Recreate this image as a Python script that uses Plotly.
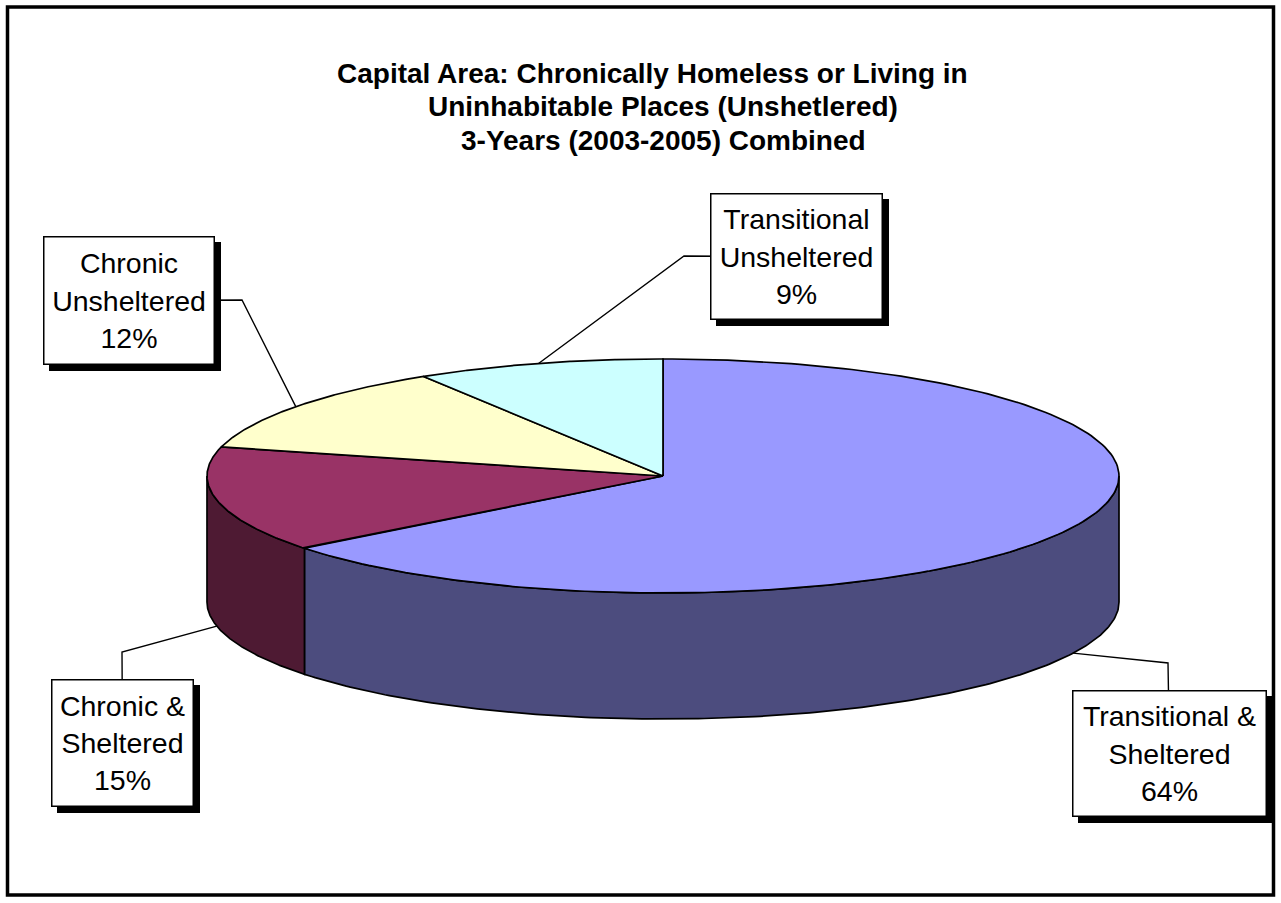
import numpy as np
import plotly.graph_objects as go

# ---------------- data ----------------
labels = ["Transitional &<br>Sheltered", "Chronic &<br>Sheltered",
          "Chronic<br>Unsheltered", "Transitional<br>Unsheltered"]
values = [64.4, 14.6, 12.2, 8.8]
top_colors = ["#9999FF", "#993366", "#FFFFCC", "#CCFFFF"]
side_colors = ["#4C4C7E", "#4E1A33", "#808066", "#668080"]
title_lines = ["Capital Area: Chronically Homeless or Living in",
               "Uninhabitable Places (Unshetlered)",
               "3-Years (2003-2005) Combined"]

# ---------------- layout constants (pixel space) ----------------
W, H = 1281, 903
cx, cy, rx, ry, depth = 663, 476, 456, 117, 126
label_centers = [(1169.5, 753.5), (122.5, 743), (129, 300.5), (796.5, 256.5)]
label_sizes = [(195, 127), (143, 128), (172, 129), (173, 127)]
label_elbows = [(1168, 663), (122, 652), (242, 300), (684, 256)]
title_x = [652, 663, 663]
FONT = "Liberation Sans, Arial, sans-serif"
BW = 1.5
SHADOW = 6

total = float(sum(values))
fracs = np.array(values) / total
ends = 90 - 360 * np.cumsum(fracs)
starts = ends + 360 * fracs


def arc(a0, a1, n=200, dy=0.0):
    t = np.radians(np.linspace(a0, a1, n))
    return cx + rx * np.cos(t), cy - ry * np.sin(t) + dy


fig = go.Figure()

# side walls (front half only)
for i in range(len(values)):
    lo, hi = ends[i], starts[i]
    for k in range(-2, 2):
        f0, f1 = -180 + 360 * k, 360 * k
        a, b = max(lo, f0), min(hi, f1)
        if b > a:
            xt, yt = arc(a, b)
            xb, yb = arc(b, a, dy=depth)
            fig.add_trace(go.Scatter(
                x=np.concatenate([xt, xb, xt[:1]]),
                y=np.concatenate([yt, yb, yt[:1]]),
                mode="lines", fill="toself", fillcolor=side_colors[i],
                line=dict(color="black", width=1.7), hoverinfo="skip",
                showlegend=False))

# top faces
for i in range(len(values)):
    xa, ya = arc(starts[i], ends[i])
    fig.add_trace(go.Scatter(
        x=np.concatenate([[cx], xa, [cx]]),
        y=np.concatenate([[cy], ya, [cy]]),
        mode="lines", fill="toself", fillcolor=top_colors[i],
        line=dict(color="black", width=1.7), hoverinfo="skip",
        showlegend=False))

# leader lines
for i in range(len(values)):
    mid = (starts[i] + ends[i]) / 2
    t = np.radians(mid)
    ax = cx + rx * np.cos(t)
    ay = cy - ry * np.sin(t) + (depth if np.sin(t) < 0 else 0)
    ex, ey = label_elbows[i]
    lx, ly = label_centers[i]
    fig.add_trace(go.Scatter(
        x=[ax, ex, lx], y=[ay, ey, ly], mode="lines",
        line=dict(color="black", width=1.4), hoverinfo="skip",
        showlegend=False))

annotations = []
shapes = []
# title
for j, line in enumerate(title_lines):
    annotations.append(dict(
        x=title_x[j], y=73 + 33.5 * j, xref="x", yref="y",
        text="<b>%s</b>" % line,
        showarrow=False, font=dict(family=FONT, size=28, color="black"),
        xanchor="center", yanchor="middle"))

# labels with shadows
for i in range(len(values)):
    txt = "%s<br>%d%%" % (labels[i], round(100 * fracs[i]))
    lx, ly = label_centers[i]
    bw_, bh_ = label_sizes[i]
    shapes.append(dict(type="rect", xref="x", yref="y",
                       x0=lx - bw_ / 2 + SHADOW, x1=lx + bw_ / 2 + SHADOW,
                       y0=ly - bh_ / 2 + SHADOW, y1=ly + bh_ / 2 + SHADOW,
                       fillcolor="black", line=dict(width=0), layer="above"))
    annotations.append(dict(
        x=lx, y=ly, xref="x", yref="y", text=txt, showarrow=False,
        xanchor="center", yanchor="middle", borderpad=0, borderwidth=BW,
        width=bw_ - 2 * BW, height=bh_ - 2 * BW, align="center",
        valign="middle",
        font=dict(family=FONT, size=28.5, color="black"),
        bgcolor="white", bordercolor="black"))

shapes.append(dict(type="rect", xref="x", yref="y", x0=7.5, y0=7, x1=1273.5,
                   y1=895, line=dict(color="black", width=3.5),
                   fillcolor="rgba(0,0,0,0)", layer="above"))

fig.update_layout(
    width=W, height=H, margin=dict(l=0, r=0, t=0, b=0),
    paper_bgcolor="white", plot_bgcolor="white",
    xaxis=dict(range=[0, W], visible=False, fixedrange=True),
    yaxis=dict(range=[H, 0], visible=False, fixedrange=True),
    annotations=annotations,
    shapes=shapes,
)

fig.write_html("out.html")
